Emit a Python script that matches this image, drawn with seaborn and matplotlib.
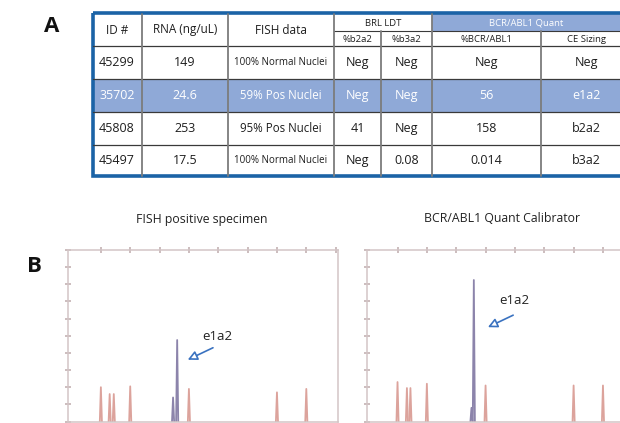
import matplotlib
matplotlib.use("Agg")
import matplotlib.pyplot as plt
import seaborn as sns
import pandas as pd
from matplotlib.patches import Rectangle

# ---------------- Table data (panel A) ----------------
col_ids = ["45299", "35702", "45808", "45497"]
col_rna = ["149", "24.6", "253", "17.5"]
col_fish = ["100% Normal Nuclei", "59% Pos Nuclei", "95% Pos Nuclei", "100% Normal Nuclei"]
col_b2a2 = ["Neg", "Neg", "41", "Neg"]
col_b3a2 = ["Neg", "Neg", "Neg", "0.08"]
col_pct = ["Neg", "56", "158", "0.014"]
col_ce = ["Neg", "e1a2", "b2a2", "b3a2"]
highlight_row = 1

# ---------------- Electropherogram data (panel B) ----------------
left_ladder_pos = [100, 107.5, 111, 125, 175, 250, 275]
left_ladder_h = [20, 16, 16, 20.5, 19, 17, 19]
left_sample_pos = [161.5, 165]
left_sample_h = [14, 47.5]
right_ladder_pos = [100, 108, 111, 125, 175, 250, 275]
right_ladder_h = [23, 19.5, 19.5, 22, 21, 21, 21]
right_sample_pos = [163, 165]
right_sample_h = [8, 82.5]

sns.set_theme(style="white")
plt.rcParams['font.family'] = ['Open Sans', 'DejaVu Sans']

W, H = 620, 423
fig = plt.figure(figsize=(6.2, 4.23), dpi=100)
tax = fig.add_axes([0, 0, 1, 1])
tax.set_xlim(0, W)
tax.set_ylim(H, 0)
tax.axis('off')

txt = '#1e1e1e'
blue_fill = '#8fa9d7'
border = '#1b63a6'

# ---- Table geometry (pixels) ----
xs = [93, 142, 228, 334, 381, 432, 541, 632]
y_top, y_sub, y_head, y_bot = 14, 31, 46, 176
row_lines = [46, 79, 112, 145, 176]

# fills
tax.add_patch(Rectangle((xs[5], y_top), xs[7] - xs[5], y_sub - y_top, fc=blue_fill, ec='none'))
r0, r1 = row_lines[highlight_row], row_lines[highlight_row + 1]
tax.add_patch(Rectangle((xs[0], r0), xs[7] - xs[0], r1 - r0, fc=blue_fill, ec='none'))

# horizontal lines
for y in row_lines[1:-1]:
    tax.plot([xs[0], xs[7]], [y, y], color='#3a3a3a', lw=0.9)
tax.plot([xs[0], xs[7]], [y_head, y_head], color='#3a3a3a', lw=0.9)
tax.plot([xs[3], xs[7]], [y_sub, y_sub], color='#3a3a3a', lw=0.8)
# vertical lines
for i, x in enumerate(xs[1:-1], start=1):
    if i in (4, 6):
        tax.plot([x, x], [y_sub, y_bot], color='#7c7c7c', lw=1.3)
    else:
        tax.plot([x, x], [y_top, y_bot], color='#7c7c7c', lw=1.3)
# outer border
tax.add_patch(Rectangle((xs[0], y_top - 1), xs[7] - xs[0], y_bot - y_top + 1,
                        fc='none', ec=border, lw=2.6))

# headers
for x0, x1, lab in [(xs[0], xs[1], "ID #"), (xs[1], xs[2], "RNA (ng/uL)"), (xs[2], xs[3], "FISH data")]:
    tax.text((x0 + x1) / 2, 30, lab, ha='center', va='center', fontsize=8.5, color=txt)
tax.text((xs[3] + xs[5]) / 2, 23, "BRL LDT", ha='center', va='center', fontsize=6.8, color=txt)
tax.text((xs[5] + xs[7]) / 2 - 6, 23, "BCR/ABL1 Quant", ha='center', va='center', fontsize=6.8, color='white')
for x0, x1, lab in [(xs[3], xs[4], "%b2a2"), (xs[4], xs[5], "%b3a2"), (xs[5], xs[6], "%BCR/ABL1"),
                    (xs[6], xs[7], "CE Sizing")]:
    tax.text((x0 + x1) / 2, 39, lab, ha='center', va='center', fontsize=6.8, color=txt)

# body
cols = [col_ids, col_rna, col_fish, col_b2a2, col_b3a2, col_pct, col_ce]
for r in range(4):
    yc = (row_lines[r] + row_lines[r + 1]) / 2
    c = 'white' if r == highlight_row else txt
    for j, col in enumerate(cols):
        xc = (xs[j] + xs[j + 1]) / 2
        if j == 0:
            xc = 117
        fs = 9
        if j == 2:
            fs = 7.0 if 'Normal' in col[r] else 8.3
        tax.text(xc, yc, col[r], ha='center', va='center', fontsize=fs, color=c)

# panel letters
tax.text(52, 26, "A", ha='center', va='center', fontsize=16, fontweight='bold', color='#111111')
tax.text(34, 266, "B", ha='center', va='center', fontsize=16, fontweight='bold', color='#111111')

# titles
tax.text(202, 219, "FISH positive specimen", ha='center', va='center', fontsize=8.8, color='#222222')
tax.text(502, 219, "BCR/ABL1 Quant Calibrator", ha='center', va='center', fontsize=8.8, color='#222222')


def peaks_df(lpos, lh, spos, sh):
    rows = []
    for kind, pos, hh in (("ladder", lpos, lh), ("sample", spos, sh)):
        for i, (p, h) in enumerate(zip(pos, hh)):
            for dx, f in ((-0.9, 0.0), (0.0, 1.0), (0.9, 0.0)):
                rows.append(dict(size=p + dx, rfu=h * f, peak=f"{kind}{i}", kind=kind))
    return pd.DataFrame(rows)


frame_c = '#d3c5c6'
tick_c = '#c4b2b3'
pal = {"ladder": "#dca39c", "sample": "#8c84ab"}
arrow_c = '#3a72c0'


def panel(rect, xlim, df, text_xy, tail, head):
    ax = fig.add_axes(rect)
    ax.set_facecolor('none')
    sns.lineplot(data=df, x='size', y='rfu', hue='kind', units='peak', estimator=None,
                 sort=False, palette=pal, lw=1.3, legend=False, ax=ax)
    ax.set_xlim(*xlim)
    ax.set_ylim(0, 100)
    ax.set_xlabel('')
    ax.set_ylabel('')
    for s in ax.spines.values():
        s.set_color(frame_c)
        s.set_linewidth(1.1)
    ax.set_xticks(range(100, 301, 25))
    ax.set_yticks(range(0, 101, 10))
    ax.tick_params(axis='x', top=True, bottom=False, length=4, width=1.2, color=tick_c,
                   direction='inout', labeltop=False, labelbottom=False)
    ax.tick_params(axis='y', left=True, right=False, length=4, width=1.2, color=tick_c,
                   direction='inout', labelleft=False)
    ax.annotate("", xy=head, xytext=tail,
                arrowprops=dict(arrowstyle='-|>', fc='white', ec=arrow_c, lw=1.2,
                                mutation_scale=14, shrinkA=0, shrinkB=0),
                annotation_clip=False)
    ax.text(text_xy[0], text_xy[1], "e1a2", ha='center', va='center', fontsize=9.5,
            color='#222222')
    return ax


axL = panel([68 / W, 1.5 / H, 270 / W, 171.5 / H], (72, 302),
            peaks_df(left_ladder_pos, left_ladder_h, left_sample_pos, left_sample_h),
            (199, 49.5), (195.5, 43), (174, 36))
axR = panel([367 / W, 1.5 / H, 270 / W, 171.5 / H], (74, 304),
            peaks_df(right_ladder_pos, right_ladder_h, right_sample_pos, right_sample_h),
            (199.5, 70.5), (198.5, 62), (177, 55))

fig.savefig("out.png", dpi=100)
